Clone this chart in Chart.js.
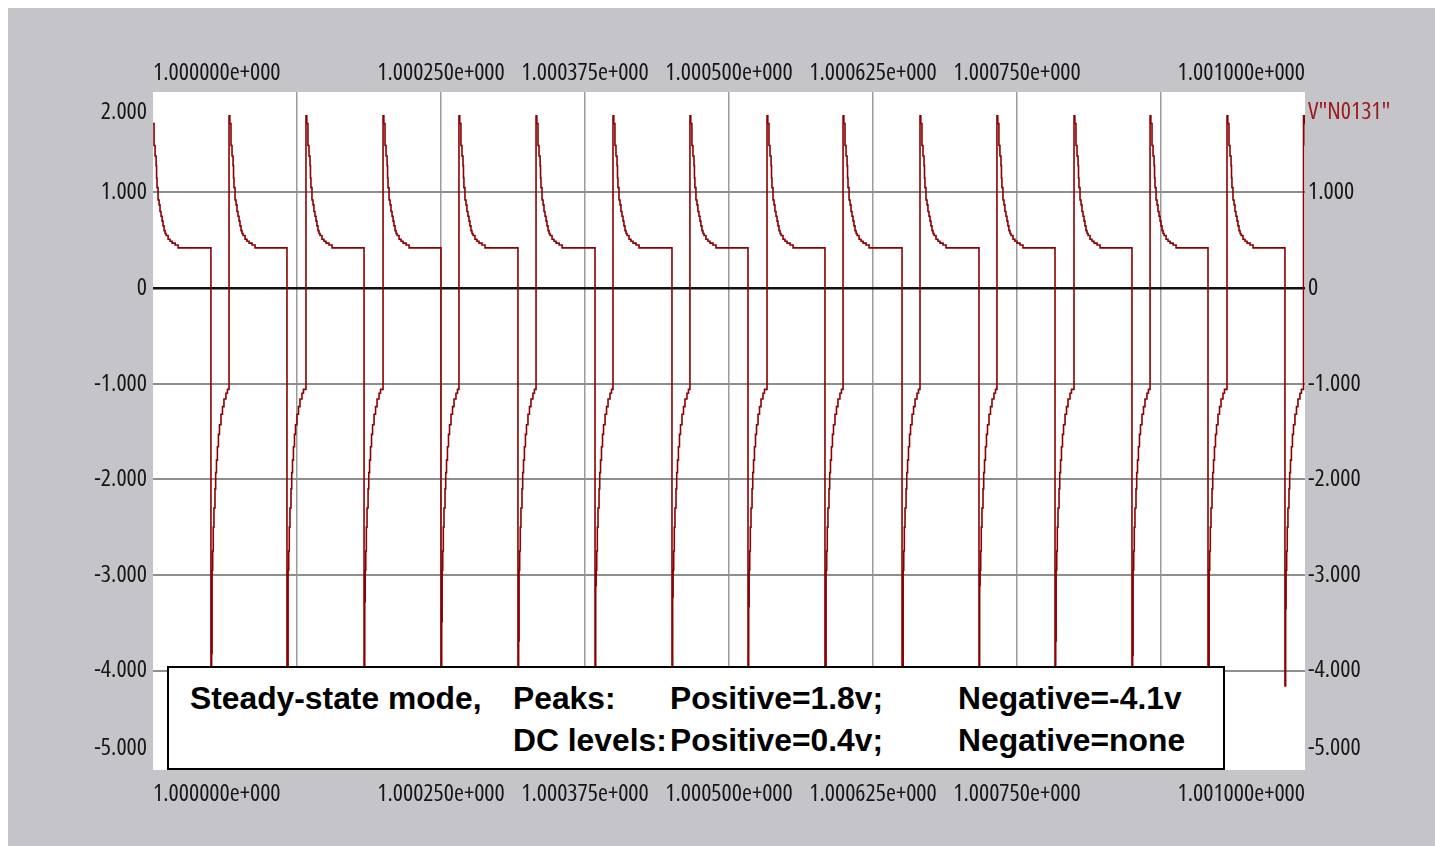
<!DOCTYPE html>
<html>
<head>
<meta charset="utf-8">
<script src="https://cdn.jsdelivr.net/npm/chart.js@4.4.1/dist/chart.umd.min.js"></script>
<style>
html,body{margin:0;padding:0;background:#ffffff;width:1435px;height:846px;overflow:hidden;}
#wrap{position:relative;width:1435px;height:846px;}
#chart{position:absolute;left:0;top:0;}
#note{position:absolute;left:167px;top:666px;width:1058px;height:104px;box-sizing:border-box;background:#fff;border:2px solid #000;
  font-family:"Liberation Sans",Arial,"DejaVu Sans",sans-serif;font-weight:bold;font-size:31.8px;line-height:31px;color:#000;}
#note span{position:absolute;white-space:nowrap;}
</style>
</head>
<body>
<div id="wrap">
  <canvas id="chart" width="1435" height="846"></canvas>
  <div id="note">
    <span style="left:21px;top:15px">Steady-state mode,</span>
    <span style="left:344px;top:15px">Peaks:</span>
    <span style="left:501px;top:15px">Positive=1.8v;</span>
    <span style="left:789px;top:15px">Negative=-4.1v</span>
    <span style="left:344px;top:57px">DC levels:</span>
    <span style="left:501px;top:57px">Positive=0.4v;</span>
    <span style="left:789px;top:57px">Negative=none</span>
  </div>
</div>
<script>
// ---- data (time in microseconds after 1.000000 s, voltage in V) ----
const seriesName = 'V"N0131"';
// rising edges of each cycle (µs)
const riseTimes = [-0.8, 66.0, 132.8, 199.7, 265.6, 332.5, 399.3, 466.1, 533.0, 599.0, 665.8, 732.6, 799.5, 865.5, 932.3, 998.7];
// falling edges of each cycle (µs)
const dropTimes = [50.3, 116.3, 183.2, 250.0, 316.8, 383.7, 450.5, 516.5, 583.3, 650.2, 717.0, 783.0, 849.8, 915.8, 982.6];
// negative peak reached at each falling edge (V)
const negPeaks = [-4.1, -4.1, -4.1, -4.1, -4.1, -4.1, -4.1, -4.1, -4.1, -4.1, -4.1, -4.1, -4.1, -4.1, -4.16];
// first sample after the negative peak (V)
const negKnees = [-3.82, -3.98, -3.28, -3.49, -3.69, -3.11, -3.23, -3.33, -3.98, -3.98, -3.11, -3.69, -3.84, -3.98, -3.35];
const kneeOffset = 0.6;
// positive decay after a rising edge: offsets (µs) and values (V)
const decayOffsets = [0, 0.7, 1.7, 2.6, 3.5, 3.9, 4.3, 5.2, 6.1, 6.9, 7.8, 8.7, 9.5, 10.4, 11.3, 12.2, 13.9, 15.6, 17.4, 20.0, 22.6];
const decayValues  = [1.80, 1.72, 1.49, 1.38, 1.28, 1.15, 1.05, 0.92, 0.87, 0.80, 0.75, 0.70, 0.65, 0.60, 0.57, 0.55, 0.51, 0.49, 0.47, 0.45, 0.42];
// recovery after a falling edge: offsets (µs) and values (V)
const recoveryOffsets = [1.0, 1.5, 2.0, 2.6, 3.5, 4.1, 4.8, 5.6, 6.5, 7.4, 8.7, 10.0, 11.3, 13.0, 14.3];
const recoveryValues  = [-2.95, -2.75, -2.5, -2.3, -2.1, -1.93, -1.8, -1.66, -1.53, -1.43, -1.32, -1.24, -1.16, -1.10, -1.06];
// axes
const xTickValues = [0, 125, 250, 375, 500, 625, 750, 875, 1000];
const xTickLabels = ['1.000000e+000', '', '1.000250e+000', '1.000375e+000', '1.000500e+000', '1.000625e+000', '1.000750e+000', '', '1.001000e+000'];
const yTickValues = [-5, -4, -3, -2, -1, 0, 1, 2];
const yTickLabels = ['-5.000', '-4.000', '-3.000', '-2.000', '-1.000', '0', '1.000', '2.000'];
const yRightLabels = ['-5.000', '-4.000', '-3.000', '-2.000', '-1.000', '0', '1.000', seriesName];

// ---- style ----
const edgeLabelPos = {'-5': -4.81, '2': 1.84}; // edge labels are pulled inside the plot
const tickFont = {family: '"Open Sans","Roboto Condensed","Liberation Sans",sans-serif', size: 24, weight: 'condensed', lineHeight: 1.2};
const tickColor = '#161616';
const traceColor = '#8b0000';

const points = [];
for (let k = 0; k < riseTimes.length; k++) {
  const t0 = riseTimes[k];
  decayOffsets.forEach((o, i) => points.push({x: t0 + o, y: decayValues[i]}));
  if (k < dropTimes.length) {
    const d = dropTimes[k];
    points.push({x: d, y: negPeaks[k]});
    points.push({x: d + kneeOffset, y: negKnees[k]});
    recoveryOffsets.forEach((o, i) => points.push({x: d + o, y: recoveryValues[i]}));
  }
}

const bgPlugin = {
  id: 'bg',
  beforeDraw(chart) {
    const c = chart.ctx, a = chart.chartArea;
    c.save();
    c.fillStyle = '#ffffff';
    c.fillRect(0, 0, chart.width, chart.height);
    c.fillStyle = '#c5c4c9';
    c.fillRect(8, 8, chart.width - 8, chart.height - 8);
    c.fillStyle = '#ffffff';
    c.fillRect(a.left, a.top, a.right - a.left, a.bottom - a.top);
    c.restore();
  }
};

const yTicksBuild = scale => {
  scale.ticks = yTickValues.map(v => ({value: (edgeLabelPos[String(v)] !== undefined) ? edgeLabelPos[String(v)] : v}));
};
const xTicksBuild = scale => { scale.ticks = xTickValues.map(v => ({value: v})); };

new Chart(document.getElementById('chart'), {
  type: 'line',
  data: {
    datasets: [{
      label: seriesName,
      data: points,
      borderColor: traceColor,
      borderWidth: 1.6,
      pointRadius: 0,
      stepped: 'before',
      fill: false
    }]
  },
  options: {
    responsive: false,
    animation: false,
    events: [],
    layout: {padding: 0},
    plugins: {legend: {display: false}, tooltip: {enabled: false}},
    scales: {
      x: {
        type: 'linear', position: 'bottom', min: 0, max: 1000,
        afterBuildTicks: xTicksBuild,
        afterFit: s => { s.height = 76; },
        border: {display: false},
        grid: {display: false, drawTicks: false},
        ticks: {autoSkip: false, maxRotation: 0, minRotation: 0, align: 'inner', padding: 10, font: tickFont, color: tickColor,
          callback: (v, i) => xTickLabels[i]}
      },
      xTop: {
        type: 'linear', position: 'top', min: 0, max: 1000,
        afterBuildTicks: xTicksBuild,
        afterFit: s => { s.height = 92; },
        border: {display: false},
        grid: {display: true, drawTicks: false, lineWidth: 1.5,
          color: ctx => (ctx.index === 0 || ctx.index === xTickValues.length - 1) ? 'rgba(0,0,0,0)' : '#9a9a9a'},
        ticks: {autoSkip: false, maxRotation: 0, minRotation: 0, align: 'inner', padding: 4, font: tickFont, color: tickColor,
          callback: (v, i) => xTickLabels[i]}
      },
      y: {
        type: 'linear', position: 'left', min: -5.04, max: 2.05,
        afterBuildTicks: yTicksBuild,
        afterFit: s => { s.width = 153; },
        border: {display: false},
        grid: {display: true, drawTicks: false,
          lineWidth: ctx => yTickValues[ctx.index] === 0 ? 2.5 : 2,
          color: ctx => {
            const v = yTickValues[ctx.index];
            if (v === -5 || v === 2) return 'rgba(0,0,0,0)';
            return v === 0 ? '#111111' : '#8e8e8e';
          }},
        ticks: {autoSkip: false, padding: 6, font: tickFont, color: tickColor,
          callback: (v, i) => yTickLabels[i]}
      },
      yRight: {
        type: 'linear', position: 'right', min: -5.04, max: 2.05,
        afterBuildTicks: yTicksBuild,
        afterFit: s => { s.width = 130; },
        border: {display: false},
        grid: {display: false, drawTicks: false},
        ticks: {autoSkip: false, padding: 3, font: tickFont,
          color: ctx => ctx.index === yTickValues.length - 1 ? '#9b1a1a' : tickColor,
          callback: (v, i) => yRightLabels[i]}
      }
    }
  },
  plugins: [bgPlugin]
});
</script>
</body>
</html>
